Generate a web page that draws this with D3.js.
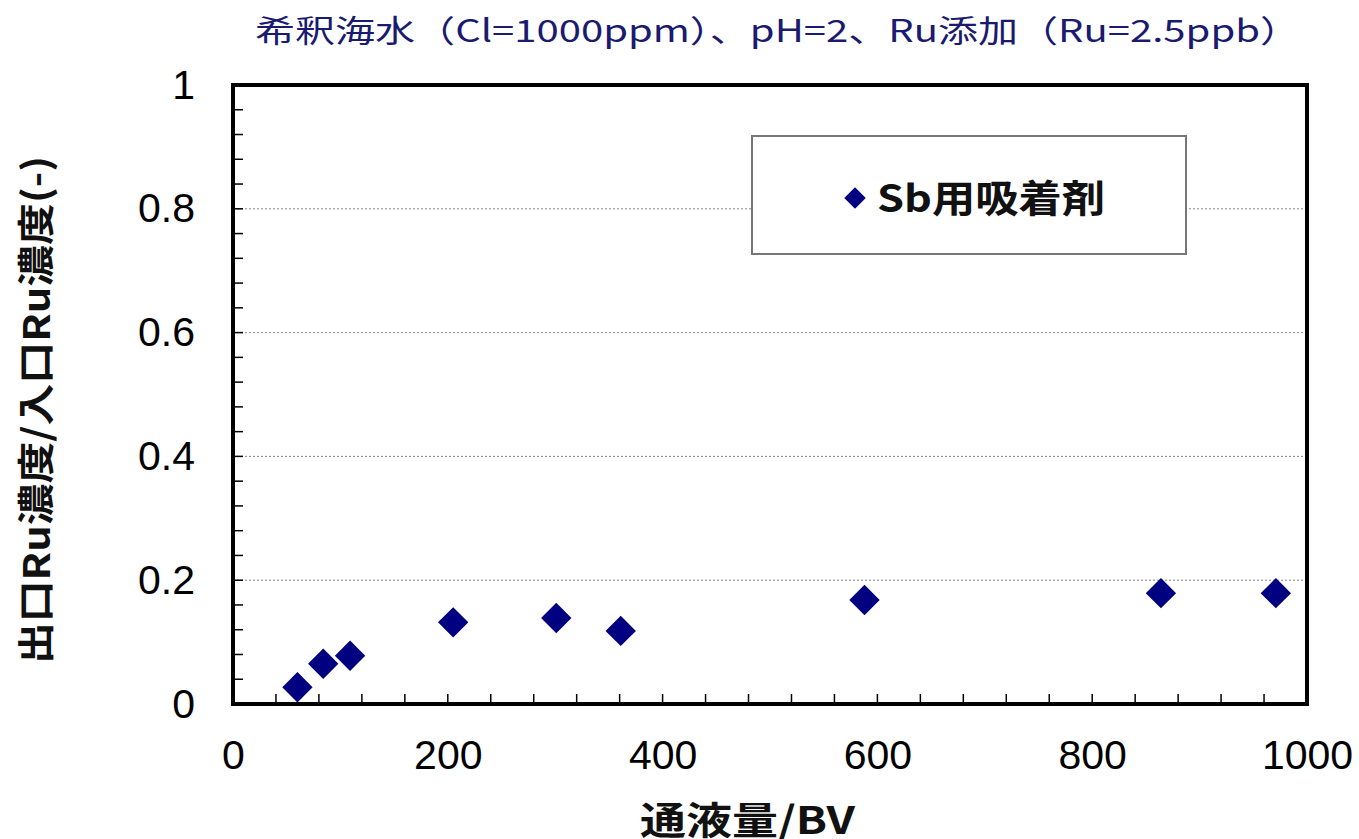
<!DOCTYPE html>
<html>
<head>
<meta charset="utf-8">
<script src="https://cdn.jsdelivr.net/npm/d3@7"></script>
<style>
body { margin: 0; background: #fff; }
</style>
</head>
<body>
<script>
// data
var bvValues = [60, 84, 109, 205, 301, 361, 588, 864, 971];
var ratioValues = [0.027, 0.065, 0.078, 0.132, 0.139, 0.118, 0.168, 0.179, 0.179];
var xTicks = [0, 200, 400, 600, 800, 1000];
var yTicks = [0, 0.2, 0.4, 0.6, 0.8, 1];
var yTickLabels = ["0", "0.2", "0.4", "0.6", "0.8", "1"];
var seriesName = "Sb用吸着剤";
var chartTitle = "希釈海水（Cl=1000ppm）、pH=2、Ru添加（Ru=2.5ppb）";
var xTitle = "通液量/BV";
var yTitle = "出口Ru濃度/入口Ru濃度(-)";

var width = 1359, height = 839;
var plotL = 233, plotR = 1307, plotT = 85, plotB = 704;
var jp = "'Noto Sans CJK JP', 'Noto Sans', sans-serif";
var num = "'Liberation Sans', Arial, sans-serif";

var svg = d3.select("body").append("svg")
    .attr("width", width)
    .attr("height", height);

var x = d3.scaleLinear().domain([0, 1000]).range([plotL, plotR]);
var y = d3.scaleLinear().domain([0, 1]).range([plotB, plotT]);

// gridlines
svg.append("g").selectAll("line")
    .data(yTicks.filter(function(d){ return d > 0 && d < 1; }))
    .enter().append("line")
    .attr("x1", plotL).attr("x2", plotR)
    .attr("y1", function(d){ return y(d); })
    .attr("y2", function(d){ return y(d); })
    .attr("stroke", "#888")
    .attr("stroke-width", 1)
    .attr("stroke-dasharray", "2,2");

// minor ticks (inside)
var xMinor = d3.range(0, 1001, 40);
var yMinor = d3.range(0, 1.001, 0.04);
svg.append("g").selectAll("line")
    .data(xMinor)
    .enter().append("line")
    .attr("x1", function(d){ return x(d); })
    .attr("x2", function(d){ return x(d); })
    .attr("y1", plotB).attr("y2", plotB - 10)
    .attr("stroke", "#000").attr("stroke-width", 1.5);
svg.append("g").selectAll("line")
    .data(yMinor)
    .enter().append("line")
    .attr("y1", function(d){ return y(d); })
    .attr("y2", function(d){ return y(d); })
    .attr("x1", plotL).attr("x2", plotL + 10)
    .attr("stroke", "#000").attr("stroke-width", 1.5);

// frame
svg.append("rect")
    .attr("x", plotL).attr("y", plotT)
    .attr("width", plotR - plotL).attr("height", plotB - plotT)
    .attr("fill", "none")
    .attr("stroke", "#000")
    .attr("stroke-width", 4);

// tick labels
var xAxis = d3.axisBottom(x).tickValues(xTicks).tickSize(0).tickPadding(36)
    .tickFormat(d3.format("d"));
var gx = svg.append("g").attr("transform", "translate(0," + plotB + ")").call(xAxis);
gx.select(".domain").remove();
gx.selectAll("text").attr("font-family", num).attr("font-size", 41).attr("fill", "#000");

var yAxis = d3.axisLeft(y).tickValues(yTicks).tickSize(0).tickPadding(38)
    .tickFormat(function(d, i){ return yTickLabels[i]; });
var gy = svg.append("g").attr("transform", "translate(" + plotL + ",0)").call(yAxis);
gy.select(".domain").remove();
gy.selectAll("text").attr("font-family", num).attr("font-size", 41).attr("fill", "#000");

// points
var diamond = d3.symbol().type(d3.symbolSquare).size(460);
svg.append("g").selectAll("path")
    .data(bvValues)
    .enter().append("path")
    .attr("d", diamond)
    .attr("transform", function(d, i){
        return "translate(" + x(d) + "," + y(ratioValues[i]) + ") rotate(45)";
    })
    .attr("fill", "#000080");

// legend
var lg = svg.append("g");
lg.append("rect")
    .attr("x", 752).attr("y", 136)
    .attr("width", 434).attr("height", 118)
    .attr("fill", "#fff")
    .attr("stroke", "#777")
    .attr("stroke-width", 2);
lg.append("path")
    .attr("d", d3.symbol().type(d3.symbolSquare).size(230))
    .attr("transform", "translate(855,198) rotate(45)")
    .attr("fill", "#000080");
lg.append("text")
    .attr("x", 877).attr("y", 212)
    .attr("font-family", jp)
    .attr("font-size", 38)
    .attr("font-weight", "bold")
    .attr("fill", "#111")
    .attr("textLength", 228)
    .attr("lengthAdjust", "spacingAndGlyphs")
    .text(seriesName);

// titles
svg.append("text")
    .attr("x", 255).attr("y", 42)
    .attr("font-family", jp)
    .attr("font-size", 31)
    .attr("fill", "#1a1a70")
    .attr("textLength", 1045)
    .attr("lengthAdjust", "spacingAndGlyphs")
    .text(chartTitle);

svg.append("text")
    .attr("x", 640).attr("y", 834)
    .attr("font-family", jp)
    .attr("font-size", 38)
    .attr("font-weight", "bold")
    .attr("fill", "#111")
    .attr("textLength", 215)
    .attr("lengthAdjust", "spacingAndGlyphs")
    .text(xTitle);

svg.append("text")
    .attr("transform", "translate(50,410) rotate(-90)")
    .attr("text-anchor", "middle")
    .attr("font-family", jp)
    .attr("font-size", 37)
    .attr("font-weight", "bold")
    .attr("fill", "#111")
    .attr("textLength", 508)
    .attr("lengthAdjust", "spacingAndGlyphs")
    .text(yTitle);
</script>
</body>
</html>
